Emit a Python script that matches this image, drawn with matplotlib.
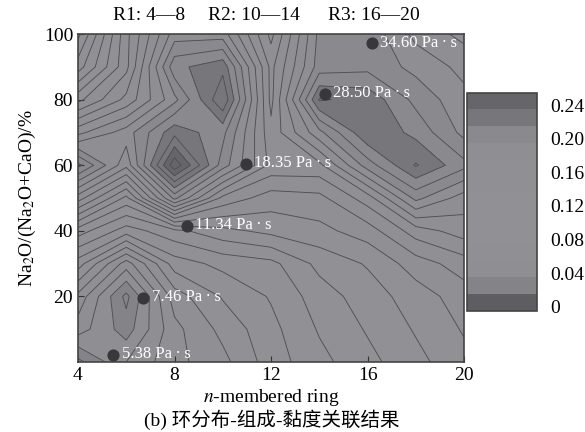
import matplotlib.pyplot as plt
import numpy as np
from matplotlib.colors import ListedColormap, BoundaryNorm

# ring size (x) and Na2O fraction (y) grid, values = ring fraction
ring_n = [4, 6, 8, 10, 12, 14, 16, 18, 20]
na_frac = [0, 10, 20, 30, 40, 50, 60, 70, 80, 90, 100]
ring_frac = [
    [0.022, 0.045, 0.062, 0.072, 0.090, 0.102, 0.112, 0.122, 0.132],  # 0
    [0.050, 0.030, 0.062, 0.078, 0.092, 0.106, 0.116, 0.126, 0.136],  # 10
    [0.062, 0.022, 0.070, 0.086, 0.096, 0.110, 0.120, 0.130, 0.140],  # 20
    [0.090, 0.050, 0.090, 0.098, 0.102, 0.118, 0.126, 0.140, 0.150],  # 30
    [0.120, 0.100, 0.112, 0.122, 0.128, 0.132, 0.140, 0.160, 0.170],  # 40
    [0.170, 0.132, 0.198, 0.152, 0.140, 0.142, 0.160, 0.198, 0.180],  # 50
    [0.218, 0.178, 0.252, 0.200, 0.162, 0.162, 0.200, 0.226, 0.208],  # 60
    [0.172, 0.190, 0.222, 0.208, 0.158, 0.192, 0.224, 0.212, 0.192],  # 70
    [0.132, 0.158, 0.192, 0.234, 0.152, 0.226, 0.222, 0.202, 0.188],  # 80
    [0.100, 0.142, 0.212, 0.222, 0.152, 0.200, 0.202, 0.192, 0.182],  # 90
    [0.082, 0.142, 0.190, 0.190, 0.142, 0.198, 0.202, 0.182, 0.172],  # 100
]

# viscosity markers
pt_x = [5.46, 6.71, 8.5, 10.96, 14.24, 16.17]
pt_y = [2.1, 19.6, 41.5, 60.4, 81.7, 97.2]
pt_lbl = ['5.38', '7.46', '11.34', '18.35', '28.50', '34.60']

cbar_ticks = [0, 0.04, 0.08, 0.12, 0.16, 0.20, 0.24]

serif = ['Liberation Serif', 'DejaVu Serif']
cjk = ['Liberation Serif', 'Noto Sans CJK SC', 'DejaVu Sans']
plt.rcParams['font.family'] = serif
plt.rcParams['mathtext.fontset'] = 'stix'

fill_lv = np.arange(-0.005, 0.2551, 0.02)
line_lv = np.arange(-0.005, 0.2551, 0.01)
band_cols = ['#5e5e62', '#848488', '#8f8f93', '#909094', '#919195', '#919195',
             '#919195', '#909094', '#909094', '#8f8f93', '#8a8a8e', '#77777b', '#66666a']
cmap = ListedColormap(band_cols)
norm = BoundaryNorm(fill_lv, cmap.N)

fig = plt.figure(figsize=(5.85, 4.32), dpi=100)
ax = fig.add_axes([0.1333, 0.162, 0.660, 0.759])
cax = fig.add_axes([0.798, 0.280, 0.1197, 0.5058])

X, Y = np.meshgrid(ring_n, na_frac)
Z = np.array(ring_frac)
cf = ax.contourf(X, Y, Z, levels=fill_lv, cmap=cmap, norm=norm)
ax.contour(X, Y, Z, levels=line_lv, colors='#505054', linewidths=0.65)

ax.scatter(pt_x, pt_y, s=60, color='#38383b', zorder=5)
for x, y, s in zip(pt_x, pt_y, pt_lbl):
    ax.annotate(s + ' Pa\u2009\u00b7\u2009s', (x, y), xytext=(6, 0.5),
                textcoords='offset points', color='white', fontsize=12,
                va='center', zorder=6)

ax.set_xlim(4, 20)
ax.set_ylim(0, 100)
ax.set_xticks([4, 8, 12, 16, 20])
ax.set_yticks([20, 40, 60, 80, 100])
ax.tick_params(direction='in', labelsize=14, length=4, width=0.8, color='#333333')
for sp in ax.spines.values():
    sp.set_linewidth(1.2)
    sp.set_color('#444444')
ax.set_xlabel('$n$-membered ring', fontsize=14, labelpad=2)
ax.set_ylabel('Na$_2$O/(Na$_2$O+CaO)/%', fontsize=14, labelpad=4)

cb = fig.colorbar(cf, cax=cax, ticks=cbar_ticks)
cb.minorticks_off()
cb.ax.set_yticklabels(['0', '0.04', '0.08', '0.12', '0.16', '0.20', '0.24'])
cb.ax.tick_params(which='both', length=0, labelsize=14, pad=10)
cb.outline.set_linewidth(1.2)
cb.outline.set_edgecolor('#444444')

fig.text(113 / 585, 1 - 16 / 432, 'R1: 4\u20148', fontsize=14, ha='left', va='center')
fig.text(208 / 585, 1 - 16 / 432, 'R2: 10\u201414', fontsize=14, ha='left', va='center')
fig.text(328 / 585, 1 - 16 / 432, 'R3: 16\u201420', fontsize=14, ha='left', va='center')
fig.text(272 / 585, 1 - 420 / 432, '(b) 环分布-组成-黏度关联结果', fontsize=14,
         ha='center', va='center', family=cjk)

fig.savefig('out.png', dpi=100)
